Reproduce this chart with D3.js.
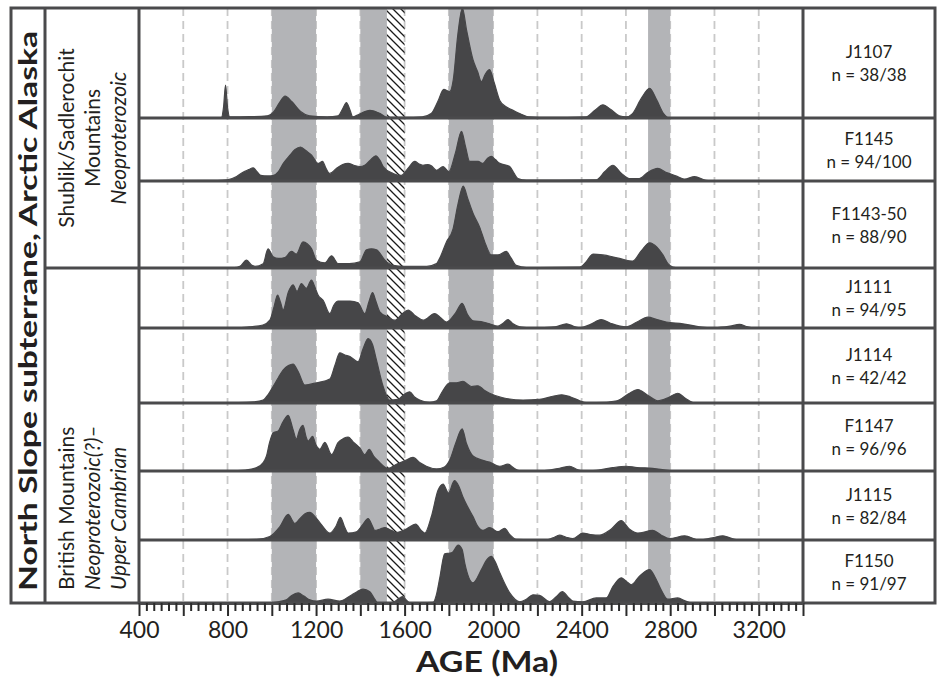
<!doctype html>
<html>
<head>
<meta charset="utf-8"/>
<title>North Slope subterrane - detrital zircon ages</title>
<script src="https://d3js.org/d3.v7.min.js"></script>
<style>
body{margin:0;background:#fff;}
text{font-family:Lato,"Open Sans",sans-serif;fill:#231f20;}
</style>
</head>
<body>
<script>
// sample labels, top to bottom
var sampleNames = ["J1107","F1145","F1143-50","J1111","J1114","F1147","J1115","F1150"];
var sampleCounts = ["n = 38/38","n = 94/100","n = 88/90","n = 94/95","n = 42/42","n = 96/96","n = 82/84","n = 91/97"];

// probability curves: [age Ma, relative height] (1 = full row height)
var j1107 = [[400,0.003],[700,0.003],[772,0.004],[782,0.1],[791,0.30],[800,0.1],[810,0.01],[900,0.012],[980,0.02],[1010,0.06],[1035,0.14],[1060,0.20],[1090,0.15],[1130,0.06],[1170,0.02],[1250,0.01],[1300,0.02],[1322,0.09],[1337,0.14],[1352,0.08],[1366,0.01],[1390,0.03],[1443,0.07],[1490,0.04],[1520,0.005],[1600,0.005],[1680,0.01],[1720,0.04],[1750,0.15],[1777,0.26],[1804,0.24],[1820,0.35],[1840,0.75],[1861,1.0],[1880,0.8],[1909,0.53],[1930,0.42],[1947,0.33],[1965,0.40],[1984,0.44],[2005,0.32],[2030,0.16],[2060,0.10],[2090,0.07],[2120,0.04],[2165,0.01],[2250,0.005],[2420,0.01],[2460,0.07],[2496,0.12],[2530,0.08],[2570,0.02],[2601,0.01],[2630,0.04],[2670,0.18],[2707,0.27],[2740,0.16],[2770,0.04],[2795,0],[3400,0]];
var f1145 = [[400,0.005],[700,0.01],[800,0.02],[841,0.07],[870,0.14],[895,0.18],[916,0.21],[933,0.15],[950,0.09],[980,0.08],[1005,0.085],[1030,0.15],[1052,0.28],[1082,0.41],[1105,0.50],[1130,0.54],[1155,0.48],[1180,0.41],[1209,0.28],[1229,0.31],[1245,0.2],[1262,0.12],[1292,0.20],[1320,0.26],[1345,0.28],[1370,0.25],[1398,0.23],[1420,0.25],[1445,0.33],[1470,0.40],[1490,0.32],[1503,0.23],[1548,0.12],[1585,0.09],[1615,0.2],[1646,0.31],[1665,0.27],[1683,0.25],[1705,0.26],[1721,0.24],[1744,0.17],[1774,0.23],[1800,0.15],[1830,0.45],[1857,0.79],[1875,0.55],[1894,0.31],[1910,0.31],[1932,0.31],[1954,0.28],[1975,0.36],[1992,0.39],[2010,0.34],[2030,0.28],[2075,0.23],[2095,0.12],[2112,0.04],[2150,0.015],[2300,0.015],[2466,0.02],[2505,0.15],[2541,0.25],[2580,0.12],[2616,0.04],[2661,0.04],[2700,0.14],[2744,0.20],[2780,0.14],[2812,0.10],[2840,0.06],[2865,0.03],[2910,0.07],[2962,0.01],[3000,0],[3400,0]];
var f114350 = [[400,0],[830,0.005],[856,0.02],[886,0.09],[910,0.03],[924,0.02],[961,0.05],[983,0.22],[1006,0.13],[1030,0.11],[1059,0.12],[1089,0.19],[1111,0.16],[1141,0.30],[1160,0.28],[1180,0.22],[1202,0.09],[1240,0.06],[1270,0.14],[1300,0.05],[1350,0.05],[1398,0.07],[1428,0.21],[1450,0.22],[1473,0.21],[1511,0.09],[1548,0.03],[1600,0.02],[1700,0.02],[1744,0.05],[1760,0.12],[1789,0.30],[1819,0.45],[1840,0.72],[1865,0.94],[1885,0.8],[1909,0.63],[1939,0.47],[1965,0.28],[1992,0.15],[2022,0.15],[2059,0.19],[2080,0.12],[2104,0.03],[2150,0.005],[2391,0.01],[2420,0.07],[2451,0.16],[2496,0.15],[2571,0.11],[2631,0.08],[2670,0.2],[2707,0.29],[2740,0.24],[2767,0.15],[2790,0.05],[2812,0.01],[2850,0],[3400,0]];
var j1111 = [[400,0],[830,0.005],[900,0.02],[960,0.05],[991,0.13],[1010,0.35],[1026,0.55],[1040,0.42],[1051,0.3],[1075,0.6],[1096,0.72],[1114,0.61],[1134,0.74],[1156,0.66],[1179,0.80],[1195,0.68],[1209,0.55],[1232,0.46],[1262,0.24],[1280,0.38],[1300,0.45],[1353,0.45],[1390,0.42],[1420,0.24],[1440,0.45],[1455,0.59],[1470,0.45],[1488,0.27],[1526,0.18],[1556,0.13],[1590,0.24],[1616,0.30],[1650,0.2],[1684,0.13],[1736,0.24],[1760,0.18],[1789,0.10],[1830,0.25],[1860,0.41],[1885,0.22],[1909,0.12],[1954,0.10],[1984,0.07],[2022,0.03],[2045,0.08],[2067,0.14],[2090,0.07],[2120,0.02],[2180,0.005],[2280,0.02],[2331,0.07],[2370,0.02],[2391,0.005],[2440,0.06],[2488,0.14],[2530,0.08],[2601,0.02],[2650,0.1],[2699,0.18],[2740,0.14],[2782,0.10],[2857,0.07],[2932,0.02],[3000,0.005],[3070,0.03],[3113,0.06],[3150,0.02],[3181,0],[3400,0]];
var j1114 = [[400,0],[850,0.005],[920,0.015],[961,0.04],[985,0.12],[1006,0.22],[1030,0.34],[1051,0.44],[1075,0.50],[1096,0.52],[1119,0.42],[1149,0.24],[1202,0.27],[1262,0.32],[1285,0.5],[1307,0.67],[1330,0.64],[1353,0.62],[1390,0.55],[1412,0.72],[1435,0.86],[1455,0.78],[1473,0.57],[1503,0.22],[1533,0.04],[1570,0.05],[1600,0.12],[1623,0.15],[1645,0.08],[1668,0.04],[1714,0.01],[1745,0.03],[1770,0.15],[1804,0.27],[1835,0.27],[1864,0.29],[1902,0.22],[1932,0.23],[1960,0.17],[1984,0.13],[2044,0.07],[2135,0.04],[2210,0.05],[2270,0.09],[2310,0.11],[2350,0.08],[2391,0.03],[2420,0.005],[2466,0.005],[2560,0.03],[2610,0.12],[2654,0.18],[2700,0.1],[2744,0.03],[2790,0.07],[2834,0.13],[2870,0.06],[2910,0],[3400,0]];
var f1147 = [[400,0],[811,0.005],[880,0.015],[931,0.05],[960,0.12],[976,0.22],[990,0.42],[1006,0.56],[1029,0.59],[1050,0.72],[1074,0.82],[1095,0.62],[1111,0.47],[1125,0.6],[1141,0.67],[1155,0.5],[1164,0.44],[1184,0.51],[1200,0.38],[1217,0.32],[1240,0.42],[1270,0.24],[1300,0.42],[1325,0.48],[1345,0.50],[1370,0.42],[1398,0.34],[1420,0.24],[1440,0.32],[1460,0.22],[1480,0.15],[1526,0.04],[1563,0.10],[1600,0.15],[1638,0.2],[1670,0.12],[1698,0.07],[1744,0.03],[1780,0.06],[1804,0.16],[1830,0.4],[1860,0.62],[1880,0.4],[1909,0.22],[1950,0.16],[1984,0.13],[2030,0.07],[2067,0.10],[2095,0.04],[2120,0.005],[2210,0],[2300,0.04],[2346,0.07],[2380,0.02],[2406,0],[2466,0.01],[2540,0.05],[2601,0.07],[2650,0.05],[2721,0.04],[2797,0.005],[2850,0],[3400,0]];
var j1115 = [[400,0],[850,0.005],[931,0.01],[991,0.05],[1036,0.19],[1074,0.37],[1104,0.24],[1127,0.31],[1150,0.38],[1172,0.40],[1200,0.32],[1225,0.22],[1262,0.10],[1290,0.2],[1310,0.33],[1330,0.18],[1345,0.10],[1383,0.12],[1410,0.22],[1435,0.31],[1455,0.2],[1465,0.14],[1490,0.16],[1511,0.18],[1540,0.14],[1563,0.11],[1608,0.16],[1650,0.23],[1675,0.14],[1691,0.10],[1721,0.34],[1751,0.72],[1774,0.81],[1798,0.68],[1825,0.86],[1845,0.78],[1864,0.62],[1885,0.48],[1909,0.34],[1930,0.2],[1954,0.14],[1984,0.18],[2022,0.12],[2052,0.17],[2075,0.08],[2104,0.01],[2239,0],[2270,0.03],[2300,0.07],[2330,0.04],[2360,0.02],[2405,0.10],[2440,0.08],[2481,0.07],[2530,0.15],[2579,0.28],[2615,0.16],[2654,0.10],[2721,0.14],[2760,0.07],[2797,0.02],[2865,0.06],[2932,0],[2990,0.03],[3038,0.06],[3080,0.02],[3113,0],[3400,0]];
var f1150 = [[400,0],[991,0.005],[1030,0.02],[1066,0.05],[1090,0.12],[1119,0.16],[1145,0.11],[1172,0.05],[1202,0.03],[1254,0.06],[1307,0.03],[1353,0.11],[1385,0.18],[1412,0.22],[1443,0.18],[1465,0.06],[1480,0],[1548,0.01],[1570,0.06],[1590,0.10],[1610,0.04],[1623,0],[1729,0.01],[1745,0.15],[1760,0.42],[1781,0.78],[1801,0.79],[1815,0.80],[1842,0.92],[1860,0.85],[1872,0.63],[1909,0.32],[1947,0.53],[1970,0.68],[1992,0.74],[2010,0.65],[2030,0.48],[2075,0.16],[2120,0.02],[2150,0.06],[2180,0.13],[2210,0.12],[2255,0.02],[2285,0.1],[2313,0.18],[2340,0.09],[2360,0.03],[2405,0.02],[2466,0.08],[2511,0.08],[2541,0.26],[2579,0.40],[2600,0.35],[2624,0.29],[2660,0.42],[2707,0.53],[2730,0.42],[2759,0.21],[2789,0.06],[2834,0.08],[2870,0.03],[2902,0],[3400,0]];
var curves = [j1107, f1145, f114350, j1111, j1114, f1147, j1115, f1150];

// shaded age ranges
var greyBands = [[1000,1200],[1400,1520],[1800,2000],[2700,2800]];
var hatchBand = [1520,1600];
var gridAges = [600,800,1000,1200,1400,1600,1800,2000,2200,2400,2600,2800,3000,3200];
var tickLabels = [400,800,1200,1600,2000,2400,2800,3200];

// layout
var W = 942, H = 678;
var rowEdges = [8,118,181,268,328,403,471,540,603];
var plotL = 139, plotR = 803, boxL = 11, boxMid = 45, labR = 935;
var plotTop = rowEdges[0], plotBottom = rowEdges[8];
var ink = "#4a4a4c", fillDark = "#464648";

var svg = d3.select("body").append("svg")
    .attr("width", W)
    .attr("height", H);

var x = d3.scaleLinear().domain([400,3400]).range([plotL,plotR]);

var defs = svg.append("defs");
var pat = defs.append("pattern")
    .attr("id","hatch")
    .attr("patternUnits","userSpaceOnUse")
    .attr("width",8).attr("height",8);
pat.append("path")
    .attr("d","M-4,4 L4,12 M0,0 L8,8 M4,-4 L12,4")
    .attr("stroke","#1a1a1a")
    .attr("stroke-width",1.3);

// dashed grid
svg.append("g").selectAll("line")
    .data(gridAges).enter().append("line")
    .attr("x1", d => x(d)).attr("x2", d => x(d))
    .attr("y1", plotTop).attr("y2", plotBottom)
    .attr("stroke","#c9c9c9")
    .attr("stroke-width",1.8)
    .attr("stroke-dasharray","8,5");

// grey bands
svg.append("g").selectAll("rect")
    .data(greyBands).enter().append("rect")
    .attr("x", d => x(d[0]))
    .attr("width", d => x(d[1]) - x(d[0]))
    .attr("y", plotTop).attr("height", plotBottom - plotTop)
    .attr("fill","#b3b4b7");

svg.append("rect")
    .attr("x", x(hatchBand[0]))
    .attr("width", x(hatchBand[1]) - x(hatchBand[0]))
    .attr("y", plotTop).attr("height", plotBottom - plotTop)
    .attr("fill","url(#hatch)");

// curves
curves.forEach(function(pts, i){
    var y = d3.scaleLinear().domain([0,1]).range([rowEdges[i+1], rowEdges[i]]);
    var area = d3.area()
        .x(d => x(d[0]))
        .y0(rowEdges[i+1])
        .y1(d => y(d[1]))
        .curve(d3.curveMonotoneX);
    svg.append("path")
        .datum(pts)
        .attr("d", area)
        .attr("fill", fillDark)
        .attr("stroke", fillDark)
        .attr("stroke-width", 1.2);
});

// row lines
svg.append("g").selectAll("line")
    .data(rowEdges.slice(1, 8)).enter().append("line")
    .attr("x1", plotL).attr("x2", labR)
    .attr("y1", d => d).attr("y2", d => d)
    .attr("stroke", ink)
    .attr("stroke-width", 3);

// frame
var frame = svg.append("g")
    .attr("fill","none")
    .attr("stroke", ink)
    .attr("stroke-width", 3);
frame.append("rect").attr("x", boxL).attr("y", plotTop).attr("width", labR - boxL).attr("height", plotBottom - plotTop);
frame.append("line").attr("x1", boxMid).attr("x2", boxMid).attr("y1", plotTop).attr("y2", plotBottom);
frame.append("line").attr("x1", plotL).attr("x2", plotL).attr("y1", plotTop).attr("y2", plotBottom);
frame.append("line").attr("x1", plotR).attr("x2", plotR).attr("y1", plotTop).attr("y2", plotBottom);
frame.append("line").attr("x1", boxMid).attr("x2", plotL).attr("y1", rowEdges[3]).attr("y2", rowEdges[3]);

// axis
var axis = svg.append("g")
    .attr("transform","translate(0," + plotBottom + ")")
    .call(d3.axisBottom(x)
        .tickValues(d3.range(400, 3401, 200))
        .tickSize(13)
        .tickSizeOuter(0)
        .tickPadding(6)
        .tickFormat(d => tickLabels.indexOf(d) >= 0 ? d : ""));
var minor = svg.append("g")
    .attr("transform","translate(0," + plotBottom + ")")
    .call(d3.axisBottom(x)
        .tickValues(d3.range(0, 91).filter(i => i % 6 !== 0).map(i => 400 + i * 200 / 6))
        .tickSize(8)
        .tickSizeOuter(0)
        .tickFormat(""));
[axis, minor].forEach(function(g){
    g.attr("color", "#2b2b2b");
    g.select(".domain").attr("stroke-width", 3).attr("stroke", ink);
    g.selectAll(".tick line").attr("stroke-width", 2);
});
axis.selectAll(".tick text")
    .attr("font-size", 23)
    .attr("font-family", "Lato, sans-serif")
    .attr("fill", "#231f20");

svg.append("text")
    .attr("x", 487).attr("y", 672)
    .attr("text-anchor","middle")
    .attr("font-size", 28)
    .attr("font-weight","bold")
    .attr("textLength", 142)
    .attr("lengthAdjust","spacingAndGlyphs")
    .text("AGE (Ma)");

// right hand sample labels
sampleNames.forEach(function(name, i){
    var cy = (rowEdges[i] + rowEdges[i+1]) / 2;
    var cx = (plotR + labR) / 2;
    svg.append("text").attr("x", cx).attr("y", cy - 5)
        .attr("text-anchor","middle").attr("font-size", 17).text(name);
    svg.append("text").attr("x", cx).attr("y", cy + 18)
        .attr("text-anchor","middle").attr("font-size", 17).text(sampleCounts[i]);
});

// left hand labels
function vtext(xb, yc, str, opts){
    var t = svg.append("text")
        .attr("transform","translate(" + xb + "," + yc + ") rotate(-90)")
        .attr("text-anchor", opts.anchor || "middle")
        .attr("font-size", opts.size || 21)
        .text(str);
    if (opts.bold) t.attr("font-weight","bold");
    if (opts.italic) t.attr("font-style","italic");
    if (opts.len) t.attr("textLength", opts.len).attr("lengthAdjust","spacingAndGlyphs");
    return t;
}
vtext(37, 311, "North Slope subterrane, Arctic Alaska", {bold:true, size:24, len:560});

vtext(74, 138, "Shublik/Sadlerochit", {});
vtext(100, 138, "Mountains", {});
vtext(126, 138, "Neoproterozoic", {italic:true});

vtext(74, 590, "British Mountains", {anchor:"start"});
vtext(100, 590, "Neoproterozoic(?)–", {anchor:"start", italic:true});
vtext(126, 590, "Upper Cambrian", {anchor:"start", italic:true});
</script>
</body>
</html>
